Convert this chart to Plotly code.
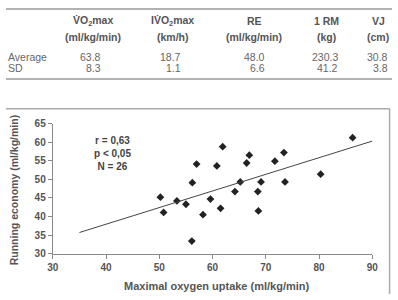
import plotly.graph_objects as go

W, H = 398, 300

# ---- data ----
vo2max = [50.2, 50.8, 53.3, 55.0, 56.1, 56.2, 57.0, 58.2, 59.6, 60.8, 61.5, 61.9,
          64.2, 65.2, 66.4, 66.9, 68.5, 68.6, 69.1, 71.7, 73.4, 73.6, 80.3, 86.3]
run_econ = [45.2, 41.1, 44.2, 43.3, 33.4, 49.1, 54.1, 40.5, 44.7, 53.6, 42.2, 58.8,
            46.7, 49.3, 54.4, 56.5, 46.7, 41.5, 49.3, 54.9, 57.2, 49.3, 51.4, 61.2]
fit_x = [35.0, 90.0]
fit_y = [35.7, 60.3]

table_cols = ["V\u0307O<sub>2</sub>max", "IV\u0307O<sub>2</sub>max", "RE", "1 RM", "VJ"]
table_units = ["(ml/kg/min)", "(km/h)", "(ml/kg/min)", "(kg)", "(cm)"]
table_rows = ["Average", "SD"]
table_avg = ["63.8", "18.7", "48.0", "230.3", "30.8"]
table_sd = ["8.3", "1.1", "6.6", "41.2", "3.8"]
stats_text = "r = 0,63<br>p < 0,05<br>N = 26"

# ---- layout helpers (pixel -> paper) ----
def px(x):
    return x / W

def py(y):
    return 1 - y / H

FONT = "Liberation Sans, Arial, sans-serif"

fig = go.Figure()
fig.add_trace(go.Scatter(x=vo2max, y=run_econ, mode="markers",
                         marker=dict(symbol="diamond", size=6, color="#222222"),
                         showlegend=False))
fig.add_trace(go.Scatter(x=fit_x, y=fit_y, mode="lines",
                         line=dict(color="#444444", width=1), showlegend=False))

axis_common = dict(showgrid=False, zeroline=False, showline=True, linecolor="#8a8a8a",
                   linewidth=1.2, ticks="outside", ticklen=4, tickcolor="#8a8a8a",
                   tickfont=dict(family=FONT, size=10, color="#555555", weight="bold"))
fig.update_layout(
    width=W, height=H, margin=dict(l=0, r=0, t=0, b=0),
    paper_bgcolor="white", plot_bgcolor="white",
    xaxis=dict(range=[30, 90], dtick=10, domain=[px(48.3), px(377.7)], **axis_common),
    yaxis=dict(range=[30, 65], dtick=5, domain=[py(258), py(122.5)], **axis_common),
)

ann = []
# axis titles
ann.append(dict(text="Maximal oxygen uptake (ml/kg/min)", x=px(218), y=py(292),
                xref="paper", yref="paper", showarrow=False, xanchor="center", yanchor="middle",
                font=dict(family=FONT, size=11, color="#555555", weight="bold")))
ann.append(dict(text="Running economy (ml/kg/min)", x=px(1), y=py(191), textangle=-90,
                xref="paper", yref="paper", showarrow=False, xanchor="left", yanchor="middle",
                borderpad=0,
                font=dict(family=FONT, size=10.5, color="#555555", weight="bold")))
# stats
ann.append(dict(text=stats_text, x=41.2, y=56.9, xref="x", yref="y", showarrow=False,
                xanchor="center", yanchor="middle", align="center",
                font=dict(family=FONT, size=10, color="#444444", weight="bold")))

# table
head_cx = [90, 172, 256, 330, 384]
val_rx = [100, 183, 269, 344, 396]
for i in range(len(table_cols)):
    ann.append(dict(text=table_cols[i], x=px(head_cx[i]), y=py(16), xref="paper", yref="paper",
                    showarrow=False, xanchor="center", yanchor="middle",
                    font=dict(family=FONT, size=10.5, color="#555555", weight="bold")))
    ann.append(dict(text=table_units[i], x=px(head_cx[i]), y=py(32), xref="paper", yref="paper",
                    showarrow=False, xanchor="center", yanchor="middle",
                    font=dict(family=FONT, size=10.5, color="#555555", weight="bold")))
    ann.append(dict(text=table_avg[i], x=px(val_rx[i]), y=py(53), xref="paper", yref="paper",
                    showarrow=False, xanchor="right", yanchor="middle",
                    font=dict(family=FONT, size=10.5, color="#666666")))
    ann.append(dict(text=table_sd[i], x=px(val_rx[i]), y=py(65), xref="paper", yref="paper",
                    showarrow=False, xanchor="right", yanchor="middle",
                    font=dict(family=FONT, size=10.5, color="#666666")))
for label, yy in zip(table_rows, [53, 65]):
    ann.append(dict(text=label, x=px(0), y=py(yy), xref="paper", yref="paper",
                    showarrow=False, xanchor="left", yanchor="middle",
                    font=dict(family=FONT, size=10.5, color="#666666")))
fig.update_layout(annotations=ann)

shapes = [
    dict(type="line", xref="paper", yref="paper", x0=0, x1=1, y0=py(3), y1=py(3),
         line=dict(color="#999999", width=1.5)),
    dict(type="line", xref="paper", yref="paper", x0=0, x1=1, y0=py(76), y1=py(76),
         line=dict(color="#999999", width=1.5)),
    dict(type="line", xref="paper", yref="paper", x0=0, x1=px(395.5), y0=py(107), y1=py(107),
         line=dict(color="#aaaaaa", width=1.5)),
    dict(type="line", xref="paper", yref="paper", x0=px(395.5), x1=px(395.5), y0=0, y1=py(107),
         line=dict(color="#aaaaaa", width=1.5)),
]
fig.update_layout(shapes=shapes)

fig.write_html("out.html")
